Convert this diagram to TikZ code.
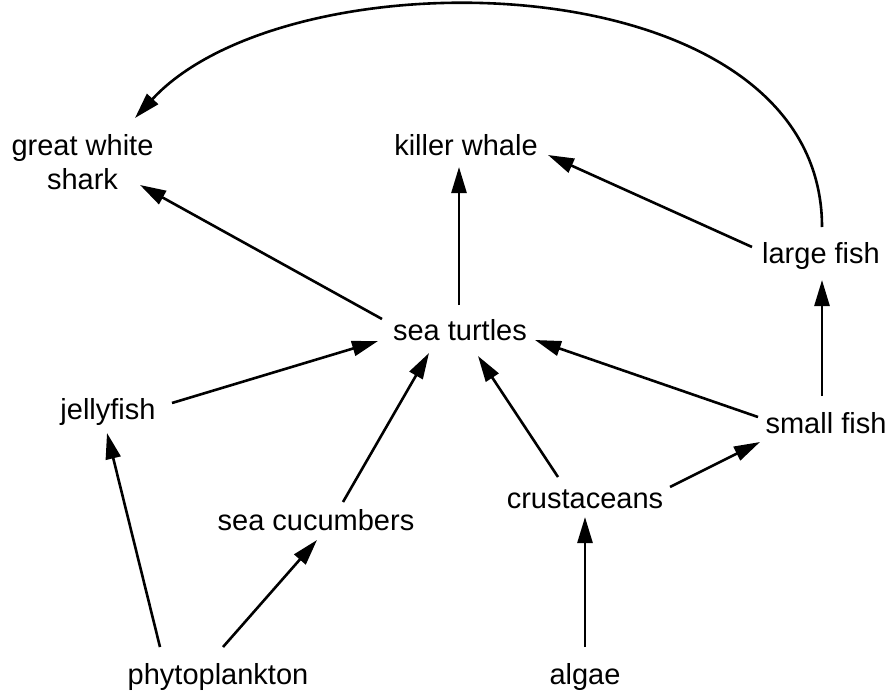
\documentclass[tikz,border=0pt]{standalone}
\usepackage{fontspec}
\setmainfont{Liberation Sans}
\usetikzlibrary{arrows.meta}

\begin{document}
\begin{tikzpicture}[x=1pt,y=-1pt,>={Triangle[length=26pt,width=15pt]},
  every node/.style={font=\fontsize{29}{34}\selectfont,inner sep=0pt,text height=21pt,text depth=6pt},
  arr/.style={->,line width=2.6pt}]
\useasboundingbox (0,0) rectangle (891,693);

% who eats whom
\node (shark)  at (82.5,162.5) [align=center,text height=,text depth=] {great white\\shark};
\node (killer) at (466,147.5) {killer whale};
\node (large)  at (821,255.5) {large fish};
\node (turtle) at (460,332.5) {sea turtles};
\node (jelly)  at (108,411.5) {jellyfish};
\node (small)  at (826,425.5) {small fish};
\node (cucum)  at (316,522.5) {sea cucumbers};
\node (crust)  at (585,500.5) {crustaceans};
\node (phyto)  at (218,677)   {phytoplankton};
\node (algae)  at (585,677)   {algae};

\draw[arr] ([shift={(-58,-30)}]phyto.center) -- ([shift={(-1,21.5)}]jelly.center);
\draw[arr] ([shift={(5,-30)}]phyto.center) -- ([shift={(1,17.5)}]cucum.center);
\draw[arr] ([shift={(27,-20.5)}]cucum.center) -- ([shift={(-31,20.5)}]turtle.center);
\draw[arr] ([shift={(64,-8.5)}]jelly.center) -- ([shift={(-82,8.5)}]turtle.center);
\draw[arr] ([shift={(-78,-13.5)}]turtle.center) -- ([shift={(57.5,22.5)}]shark.center);
\draw[arr] ([shift={(-1,-27.5)}]turtle.center) -- ([shift={(-7,19.5)}]killer.center);
\draw[arr] ([shift={(-69,-8.5)}]large.center) -- ([shift={(82,7.5)}]killer.center);
\draw[arr] ([shift={(1,-28.5)}]large.center) .. controls (822,-40) and (290,-50) .. ([shift={(52.5,-44.5)}]shark.center);
\draw[arr] ([shift={(-4,-29.5)}]small.center) -- ([shift={(1,24.5)}]large.center);
\draw[arr] ([shift={(-68,-8.5)}]small.center) -- ([shift={(75,7.5)}]turtle.center);
\draw[arr] ([shift={(-27,-23.5)}]crust.center) -- ([shift={(18,23.5)}]turtle.center);
\draw[arr] ([shift={(85,-13.5)}]crust.center) -- ([shift={(-66,16.5)}]small.center);
\draw[arr] ([shift={(0,-30)}]algae.center) -- ([shift={(0,16.5)}]crust.center);

\end{tikzpicture}
\end{document}
